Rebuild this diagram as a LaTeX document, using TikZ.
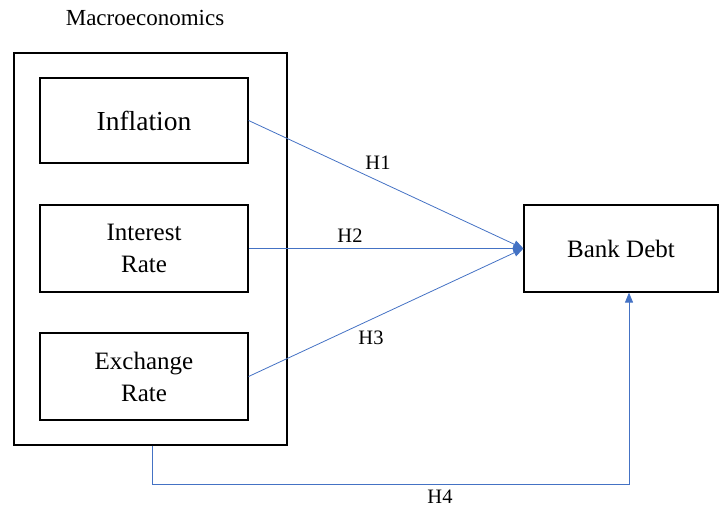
\documentclass[tikz,border=0pt]{standalone}
\usepackage{fontspec}
\setmainfont{Liberation Serif}
\usetikzlibrary{arrows.meta}
\definecolor{linkblue}{RGB}{68,114,196}
\tikzset{
  box/.style={draw=black, line width=1.2pt, minimum width=208pt, minimum height=86pt, align=center, font=\fontsize{25}{32}\selectfont, inner sep=0pt},
  link/.style={draw=linkblue, line width=0.8pt, -{Triangle[length=10pt,width=8pt]}},
  hlabel/.style={font=\fontsize{20.5}{22}\selectfont}
}
\begin{document}
\begin{tikzpicture}[x=1pt, y=-1pt]
    \useasboundingbox (0,0) rectangle (720,508);

    % group box
    \node[draw=black, line width=1.2pt, minimum width=273pt, minimum height=392pt, inner sep=0pt] (macro) at (150.5,249) {};
    \node[font=\fontsize{23}{26}\selectfont] (title) at (145,18) {Macroeconomics};

    % variables
    \node[box, minimum height=85pt, font=\fontsize{27.5}{30}\selectfont] (infl) at (144,120.5) {Inflation};
    \node[box, minimum height=87pt] (rate) at (144,248.5) {Interest\\Rate};
    \node[box, minimum height=87pt] (fx) at (144,376.5) {Exchange\\Rate};

    % outcome
    \node[box, minimum width=194pt, minimum height=87pt] (debt) at (621,248.5) {Bank Debt};

    % hypotheses
    \draw[link] (infl.east) -- (debt.west);
    \draw[link] (rate.east) -- (debt.west);
    \draw[link] (fx.east) -- (debt.west);
    \draw[link] (macro.south -| 152,0) -- (152,484) coordinate (corner) -| ([xshift=8pt]debt.south);

    \node[hlabel] (h1) at (378,163) {H1};
    \node[hlabel] (h2) at (350,236) {H2};
    \node[hlabel] (h3) at (371,338) {H3};
    \node[hlabel] (h4) at (440,497) {H4};
\end{tikzpicture}
\end{document}
